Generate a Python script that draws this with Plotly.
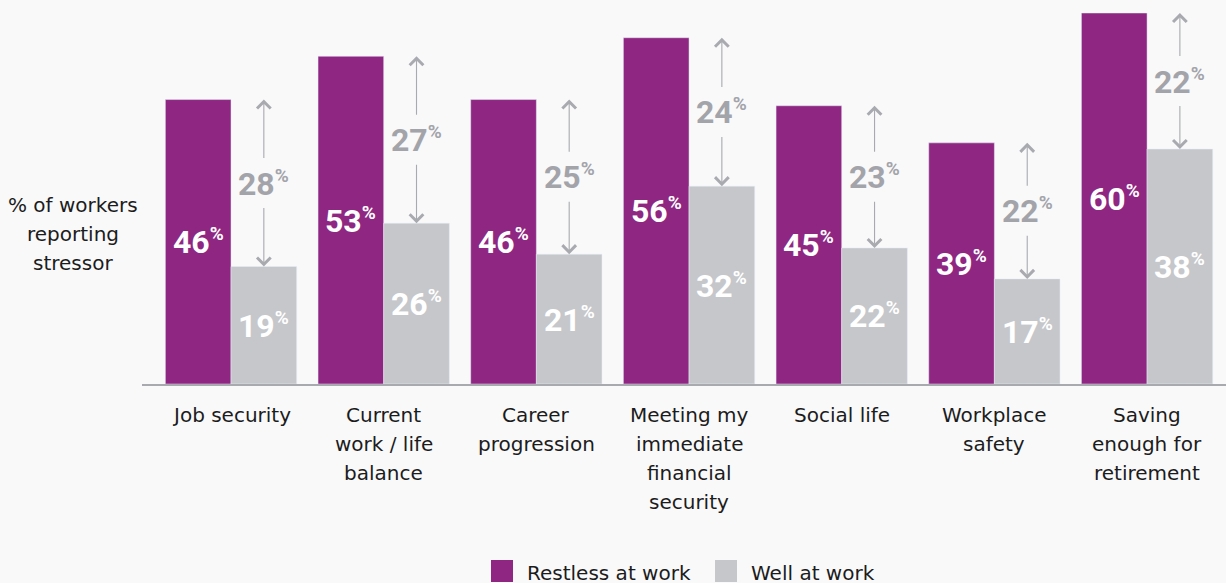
import plotly.graph_objects as go

# Stressors reported by workers, split by wellbeing group
categories = [
    "Job security",
    "Current<br>work / life<br>balance",
    "Career<br>progression",
    "Meeting my<br>immediate<br>financial<br>security",
    "Social life",
    "Workplace<br>safety",
    "Saving<br>enough for<br>retirement",
]
restless = [46, 53, 46, 56, 45, 39, 60]
well = [19, 26, 21, 32, 22, 17, 38]
gap_labels = [28, 27, 25, 24, 23, 22, 22]

series_names = ["Restless at work", "Well at work"]
y_title = ["% of workers", "reporting", "stressor"]

PURPLE = "#8E2682"
GREY = "#C6C7CB"
GAP_GREY = "#A3A4AA"
TEXT = "#1C1C1C"
BG = "#F9F9FA"
CAT_FONT = "DejaVu Sans, Lato, sans-serif"
NUM_FONT = "Roboto, Liberation Sans, sans-serif"
CAT_SIZE = 20

W, H = 1226, 583
BAR_W = 0.43
x = list(range(len(categories)))

fig = go.Figure()
fig.add_trace(go.Bar(x=x, y=restless, name=series_names[0], marker_color=PURPLE,
                     width=BAR_W, offset=-BAR_W, showlegend=False))
fig.add_trace(go.Bar(x=x, y=well, name=series_names[1], marker_color=GREY,
                     width=BAR_W, offset=0, showlegend=False))

annotations = []


def pct(v):
    # number with a small raised percent sign
    return f"<b>{v}<sup><span style='font-size:19px'>%</span></sup></b>"


for i in x:
    # value labels centred inside each bar
    for val, dx in ((restless[i], -BAR_W / 2), (well[i], BAR_W / 2)):
        annotations.append(dict(
            x=i + dx, y=val / 2, xref="x", yref="y", showarrow=False,
            text=pct(val), font=dict(family=NUM_FONT, size=32, color="white"),
            xanchor="center", yanchor="middle"))
    # double-headed gap arrow above the grey bar
    xc = i + BAR_W / 2
    mid = (restless[i] + well[i]) / 2
    for end, col in ((restless[i], GAP_GREY), (well[i], "rgba(0,0,0,0)")):
        annotations.append(dict(
            x=xc, y=end, ax=xc, ay=mid, xref="x", yref="y", axref="x", ayref="y",
            text=pct(gap_labels[i]), font=dict(family=NUM_FONT, size=32, color=col),
            showarrow=True, arrowhead=4, arrowsize=2.4, arrowwidth=1.1,
            arrowcolor="#A9AAB0", borderpad=5, standoff=0))
    # category labels below the axis, one line each
    for k, line in enumerate(categories[i].split("<br>")):
        annotations.append(dict(
            x=i, y=(H - 415 - 29 * k) / H, xref="x", yref="paper", showarrow=False,
            text=line, font=dict(family=CAT_FONT, size=CAT_SIZE, color=TEXT),
            xanchor="center", yanchor="middle"))

# axis title at the left
for k, line in enumerate(y_title):
    annotations.append(dict(
        x=73 / W, y=(H - 205 - 29 * k) / H, xref="paper", yref="paper", showarrow=False,
        text=line, font=dict(family=CAT_FONT, size=CAT_SIZE, color=TEXT),
        xanchor="center", yanchor="middle"))

# legend built from swatches and labels
shapes = []
legend_items = [(491, PURPLE, 525), (715, GREY, 749)]
for (sx, col, tx), name in zip(legend_items, series_names):
    shapes.append(dict(type="rect", xref="paper", yref="paper",
                       x0=sx / W, x1=(sx + 22) / W, y0=(H - 582) / H, y1=(H - 560) / H,
                       fillcolor=col, line=dict(width=0)))
    annotations.append(dict(
        x=tx / W, y=(H - 573) / H, xref="paper", yref="paper", showarrow=False,
        text=name, font=dict(family=CAT_FONT, size=CAT_SIZE, color=TEXT),
        xanchor="left", yanchor="middle"))

fig.update_layout(
    width=W, height=H,
    margin=dict(l=0, r=0, t=0, b=0),
    paper_bgcolor=BG, plot_bgcolor=BG,
    barmode="overlay",
    xaxis=dict(domain=[142 / W, 1], range=[-0.583, 6.517], showticklabels=False,
               showgrid=False, zeroline=False, showline=True, linecolor="#A9AAB0",
               linewidth=1.5, ticks=""),
    yaxis=dict(domain=[(H - 384) / H, (H - 13) / H], range=[0, 60], visible=False,
               showgrid=False, zeroline=False),
    annotations=annotations,
    shapes=shapes,
    showlegend=False,
)

fig.write_html("out.html")
